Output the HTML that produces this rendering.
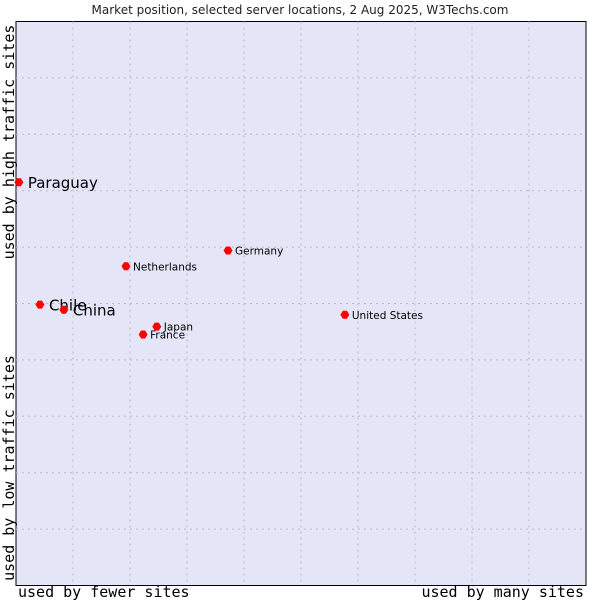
<!DOCTYPE html>
<html><head><meta charset="utf-8"><style>
body{margin:0;background:#fff;}
svg{display:block;}
</style></head><body>
<svg id="chart" width="600" height="600" xmlns="http://www.w3.org/2000/svg">
<text x="300" y="14" text-anchor="middle" font-family="DejaVu Sans, sans-serif" font-size="12" fill="#222">Market position, selected server locations, 2 Aug 2025, W3Techs.com</text>
<rect x="16" y="21.5" width="570" height="564" fill="#e4e6f8" stroke="#000" stroke-width="1"/>
<g id="grid"></g>
<text transform="translate(14,142) rotate(-90)" text-anchor="middle" font-family="DejaVu Sans Mono, monospace" font-size="15" fill="#000">used by high traffic sites</text>
<text transform="translate(14,468) rotate(-90)" text-anchor="middle" font-family="DejaVu Sans Mono, monospace" font-size="15" fill="#000">used by low traffic sites</text>
<text x="18" y="597" font-family="DejaVu Sans Mono, monospace" font-size="15" fill="#000">used by fewer sites</text>
<text x="584" y="597" text-anchor="end" font-family="DejaVu Sans Mono, monospace" font-size="15" fill="#000">used by many sites</text>
<g id="points"></g>
</svg>
<script>
const names = ["Paraguay","Chile","China","Netherlands","Germany","United States","Japan","France"];
const xVals = [0.5,4.2,8.4,19.3,37.2,57.7,24.7,22.3];
const yVals = [71.5,49.8,48.9,56.6,59.4,48.0,45.9,44.5];
const bigLabel = [true,true,true,false,false,false,false,false];
const ns="http://www.w3.org/2000/svg";
const X0=16,X1=586,Y0=585.5,Y1=21.5;
function sx(v){return X0+(X1-X0)*v/100;}
function sy(v){return Y0-(Y0-Y1)*v/100;}
const grid=document.getElementById('grid');
for(let i=1;i<10;i++){
  const l=document.createElementNS(ns,'line');
  
  
  const x=X0+57*i;
  l.setAttribute('x1',x);l.setAttribute('x2',x);l.setAttribute('y1',Y1);l.setAttribute('y2',Y0);
  l.setAttribute('stroke','#bbb');l.setAttribute('stroke-dasharray','2,4');
  grid.appendChild(l);
  const h=document.createElementNS(ns,'line');
  
  
  const y=Y1+56.4*i;
  h.setAttribute('x1',X0);h.setAttribute('x2',X1);h.setAttribute('y1',y);h.setAttribute('y2',y);
  h.setAttribute('stroke','#bbb');h.setAttribute('stroke-dasharray','2,4');
  grid.appendChild(h);
}
const pts=document.getElementById('points');
names.forEach((n,i)=>{
  const x=sx(xVals[i]),y=sy(yVals[i]);
  const d=document.createElementNS(ns,'path');
  
  
  d.setAttribute('d',`M${x-4.5},${y} L${x-2},${y-4} L${x+2},${y-4} L${x+4.5},${y} L${x+2},${y+4} L${x-2},${y+4} Z`);
  d.setAttribute('fill','#f00');
  pts.appendChild(d);
  const t=document.createElementNS(ns,'text');
  
  
  t.setAttribute('font-family','DejaVu Sans, sans-serif');
  t.setAttribute('font-size',bigLabel[i]?15:10.5);
  t.setAttribute('x',x+(bigLabel[i]?9:7));
  t.setAttribute('y',y+(bigLabel[i]?6:4));
  t.setAttribute('fill','#000');
  t.textContent=n;
  pts.appendChild(t);
});
</script>
</body></html>
